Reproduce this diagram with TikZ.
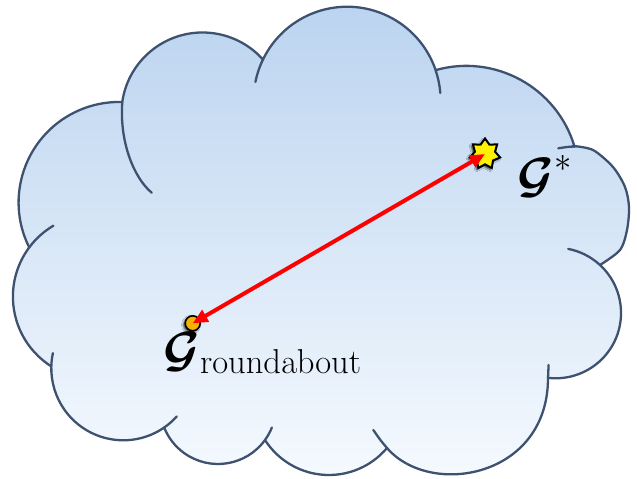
\documentclass[tikz,border=0pt]{standalone}
\usepackage{amsmath}
\usetikzlibrary{shapes.geometric,arrows.meta,shadows.blur}
\definecolor{cloudedge}{RGB}{62,82,112}
\definecolor{cloudtop}{RGB}{186,211,239}
\definecolor{cloudbot}{RGB}{247,251,255}
\definecolor{dotfill}{RGB}{247,178,0}
\definecolor{arrowred}{RGB}{255,0,0}
\begin{document}
\begin{tikzpicture}[x=0.5pt,y=0.5pt,
  cloudline/.style={draw=cloudedge,line width=1.15pt,line join=round,line cap=round},
  cloudbody/.style={cloudline,top color=cloudtop,bottom color=cloudbot},
  softshadow/.style={blur shadow={shadow xshift=-0.8pt,shadow yshift=-0.8pt,shadow blur radius=1pt,shadow opacity=80}},
  dotnode/.style={circle,fill=dotfill,draw=black,line width=0.8pt,minimum size=7.5pt,inner sep=0pt,softshadow},
  starnode/.style={star,star points=7,star point ratio=1.5,minimum size=15.5pt,inner sep=0pt,fill=yellow,draw=black,line width=1pt,softshadow},
  redarrow/.style={draw=arrowred,line width=2pt,{Triangle[length=7.5pt,width=6.5pt]}-{Triangle[length=7.5pt,width=6.5pt]}},
  lbl/.style={anchor=base west,inner sep=0pt,font=\fontsize{24}{28}\selectfont}]
\useasboundingbox (0,0) rectangle (637,478);
% cloud body
\path[cloudbody] (29,231)
  arc[start angle=206.3,end angle=88.2,radius=100.5]
  arc[start angle=171.8,end angle=41.8,radius=81.1]
  arc[start angle=154.2,end angle=18.8,radius=93.5]
  arc[start angle=105.7,end angle=16.5,radius=113]
  -- plot[smooth] coordinates {(573,332)(593,328)(613,311)(625,291)(629,271)(627,248)(620,228)(600,213)}
  arc[start angle=47.3,end angle=-96.8,radius=65.3]
  -- (548,100) .. controls (548,0) and (430,-20) .. (387,30)
  arc[start angle=-40.1,end angle=-147.4,radius=75.9]
  arc[start angle=-35.9,end angle=-158.2,radius=58]
  arc[start angle=-55.4,end angle=-181.5,radius=72]
  arc[start angle=-122.3,end angle=-217.4,radius=82.5]
  -- cycle;
% inner curls
\draw[cloudline] (29.85,231.4) arc[start angle=-217.4,end angle=-239.4,radius=82.5];
\draw[cloudline] (122.3,376) .. controls (119.3,336) and (134,300) .. (151.7,285.3);
\draw[cloudline] (262.9,418.4) arc[start angle=154.2,end angle=168.7,radius=93.5];
\draw[cloudline] (435.6,407.8) arc[start angle=18.8,end angle=4.5,radius=93.5];
\draw[cloudline] (574,331.5) .. controls (568,331.2) .. (558.3,329.7);
\draw[cloudline] (600,213) arc[start angle=47.3,end angle=79,radius=65.3];
\draw[cloudline] (548,100) .. controls (548,106) .. (548.6,113);
\draw[cloudline] (387,30) .. controls (381,37) .. (373.3,48);
\draw[cloudline] (265,38) arc[start angle=-35.9,end angle=-21.8,radius=58];
\draw[cloudline] (51.3,111.6) arc[start angle=-181.5,end angle=-192.2,radius=72];
\draw[cloudline] (164.15,50.46) arc[start angle=-55.4,end angle=-42,radius=72];
% points and arrow
\node[dotnode] (dot) at (192.7,154.7) {};
\node[starnode] (star) at (485,324) {};
\draw[redarrow] (dot.center) -- (star.center);
% labels
\node[lbl] (gstar) at (517,286) {$\boldsymbol{\mathcal{G}}^{*}$};
\node[lbl] (gr) at (163,112) {$\boldsymbol{\mathcal{G}}_{\mathrm{roundabout}}$};
\end{tikzpicture}
\end{document}
